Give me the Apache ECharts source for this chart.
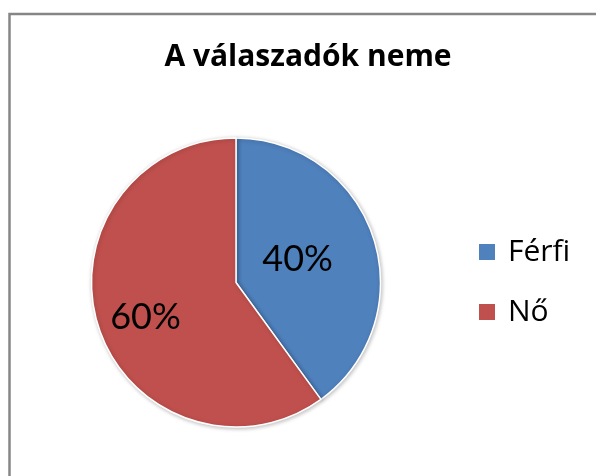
<!DOCTYPE html>
<html>
<head>
<meta charset="utf-8">
<script src="https://cdn.jsdelivr.net/npm/echarts@6/dist/echarts.min.js"></script>
<style>
  html, body { margin: 0; padding: 0; background: #fff; }
  #chart { width: 596px; height: 476px; }
</style>
</head>
<body>
<div id="chart"></div>
<script>
// A válaszadók neme (kördiagram)
const chartTitle = 'A válaszadók neme';
const categories = ['Férfi', 'Nő'];
const shares = [40, 60];
const colors = ['#4F81BD', '#C0504D'];

// címkék eltolása a szelet közepéhez képest
const labelOffsets = [[-10, 0], [-19, 12]];

const chart = echarts.init(document.getElementById('chart'));

chart.setOption({
    animation: false,
    graphic: [{
        type: 'rect',
        shape: { x: 9.5, y: 14, width: 700, height: 600 },
        style: { fill: 'none', stroke: '#868686', lineWidth: 2.5 },
        silent: true
    }],
    title: {
        text: chartTitle,
        left: 303,
        top: 37,
        textAlign: 'center',
        textStyle: {
            fontFamily: 'Open Sans',
            fontWeight: 'bold',
            fontSize: 30,
            color: '#000'
        }
    },
    legend: {
        orient: 'vertical',
        left: 477,
        top: 237,
        padding: 0,
        itemWidth: 18,
        itemHeight: 18,
        itemGap: 30,
        icon: 'rect',
        data: categories,
        textStyle: {
            fontFamily: 'Open Sans',
            fontSize: 30,
            color: '#000',
            padding: [0, 0, 0, 7]
        }
    },
    series: [{
        type: 'pie',
        center: [236, 282.5],
        radius: 144.5,
        startAngle: 90,
        clockwise: true,
        itemStyle: {
            borderColor: '#fff',
            borderWidth: 1.5,
            shadowColor: 'rgba(0,0,0,0.25)',
            shadowBlur: 4,
            shadowOffsetX: 1,
            shadowOffsetY: 1
        },
        label: {
            show: true,
            position: 'inside',
            formatter: '{d}%',
            fontFamily: 'Lato',
            fontSize: 36,
            color: '#000'
        },
        labelLine: { show: false },
        emphasis: { disabled: true },
        data: categories.map((name, i) => ({
            name: name,
            value: shares[i],
            itemStyle: { color: colors[i] },
            label: { offset: labelOffsets[i] }
        }))
    }]
});
</script>
</body>
</html>
